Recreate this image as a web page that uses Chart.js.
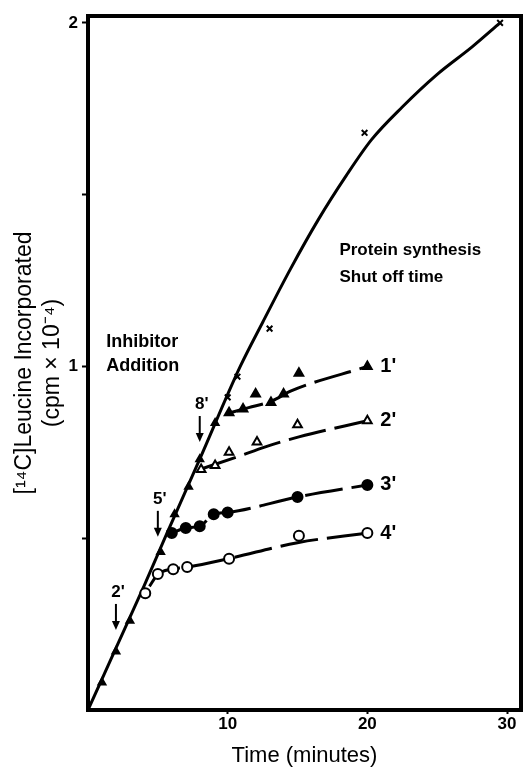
<!DOCTYPE html>
<html>
<head>
<meta charset="utf-8">
<script src="https://cdn.jsdelivr.net/npm/chart.js@4.4.1/dist/chart.umd.min.js"></script>
<style>
  body { margin: 0; background: #fff; }
  canvas { display: block; }
</style>
</head>
<body>
<canvas id="myChart" width="528" height="767"></canvas>
<script>
// control curve (no inhibitor)
const controlLineT = [0, 2, 4, 5.5, 8, 10.9, 12.5, 14.5, 16.5, 18.5, 20.3, 22.5, 25, 27.5, 29.5];
const controlLineY = [0, 0.18, 0.36, 0.5, 0.73, 1.0, 1.128, 1.284, 1.428, 1.556, 1.66, 1.755, 1.85, 1.93, 2.0];
const controlMarkT = [10, 10.7, 13, 19.8, 29.5];
const controlMarkY = [0.91, 0.97, 1.11, 1.68, 2.0];
// points on the common part before inhibitor addition
const earlyMarkT = [1, 2, 3, 5.2, 6.2, 7.2, 8, 9.1];
const earlyMarkY = [0.08, 0.17, 0.26, 0.46, 0.57, 0.65, 0.73, 0.835];

// shut off 1'
const s1LineT = [9.9, 11.5, 13.2, 14.5, 20];
const s1LineY = [0.862, 0.88, 0.9, 0.928, 1.0];
const s1MarkT = [10.1, 11.1, 12, 13.1, 14, 15.1, 20];
const s1MarkY = [0.865, 0.876, 0.92, 0.895, 0.92, 0.98, 1.0];
// shut off 2'
const s2LineT = [8, 10.7, 12.7, 15.1, 20];
const s2LineY = [0.7, 0.737, 0.766, 0.795, 0.842];
const s2MarkT = [8.1, 9.1, 10.1, 12.1, 15, 20];
const s2MarkY = [0.7, 0.712, 0.75, 0.78, 0.83, 0.842];
// shut off 3'
const s3T = [6, 7, 8, 9, 10, 15, 20];
const s3Y = [0.515, 0.53, 0.535, 0.57, 0.575, 0.62, 0.655];
// shut off 4'
const s4LineT = [4.4, 5, 6, 7, 10, 15, 20];
const s4LineY = [0.36, 0.395, 0.41, 0.415, 0.44, 0.487, 0.515];
const s4MarkT = [4.1, 5, 6.1, 7.1, 10.1, 15.1, 20];
const s4MarkY = [0.34, 0.396, 0.41, 0.416, 0.44, 0.507, 0.515];

const xTickValues = [10, 20, 30];
const yTickValues = [0.5, 1, 1.5, 2];
const yTickLabels = ['', '1', '', '2'];

const inhibitorTimes = [2, 5, 8];
const inhibitorTips = [0.233, 0.504, 0.78];
const inhibitorLabels = ["2'", "5'", "8'"];
const shutoffLabels = ["1'", "2'", "3'", "4'"];
const shutoffEnds = [s1MarkY[s1MarkY.length - 1], s2MarkY[s2MarkY.length - 1], s3Y[s3Y.length - 1], s4MarkY[s4MarkY.length - 1]];

const inhibitorNote = ['Inhibitor', 'Addition'];
const shutoffNote = ['Protein synthesis', 'Shut off time'];

const pts = (t, v) => t.map((x, i) => ({ x: x, y: v[i] }));

Chart.defaults.font.family = "'Liberation Sans', Arial, sans-serif";
Chart.defaults.color = '#000';

const markers = (label, t, v, style, fill, r) => ({
    label: label,
    data: pts(t, v),
    showLine: false,
    pointStyle: style,
    pointRadius: r,
    pointBackgroundColor: fill,
    pointBorderColor: '#000',
    pointBorderWidth: 2
});

const dashed = (label, t, v) => ({
    label: label,
    data: pts(t, v),
    borderColor: '#000',
    borderWidth: 3,
    borderDash: [38, 9],
    pointRadius: 0,
    cubicInterpolationMode: 'monotone'
});

const data = {
    datasets: [
        markers('control', controlMarkT, controlMarkY, 'crossRot', '#000', 4),
        markers('early', earlyMarkT, earlyMarkY, 'triangle', '#000', 4),
        markers("1'", s1MarkT, s1MarkY, 'triangle', '#000', 5),
        markers("2'", s2MarkT, s2MarkY, 'triangle', '#fff', 5),
        markers("3'", s3T, s3Y, 'circle', '#000', 5),
        markers("4'", s4MarkT, s4MarkY, 'circle', '#fff', 5),
        {
            label: 'control line',
            data: pts(controlLineT, controlLineY),
            borderColor: '#000',
            borderWidth: 3,
            pointRadius: 0,
            cubicInterpolationMode: 'monotone'
        },
        dashed("1' line", s1LineT, s1LineY),
        dashed("2' line", s2LineT, s2LineY),
        dashed("3' line", s3T, s3Y),
        dashed("4' line", s4LineT, s4LineY)
    ]
};

const annotations = {
    id: 'annotations',
    afterDatasetsDraw(chart) {
        const { ctx, chartArea: a, scales: { x, y } } = chart;
        ctx.save();
        ctx.strokeStyle = '#000';
        ctx.fillStyle = '#000';
        ctx.lineWidth = 4;
        ctx.strokeRect(a.left, a.top, a.right - a.left, a.bottom - a.top);

        // inhibitor addition arrows
        ctx.font = "bold 17px 'Liberation Sans', Arial, sans-serif";
        ctx.textAlign = 'center';
        ctx.textBaseline = 'middle';
        ctx.lineWidth = 2;
        inhibitorTimes.forEach((t, i) => {
            const px = x.getPixelForValue(t);
            const tip = y.getPixelForValue(inhibitorTips[i]);
            ctx.beginPath();
            ctx.moveTo(px, tip - 26);
            ctx.lineTo(px, tip - 6);
            ctx.stroke();
            ctx.beginPath();
            ctx.moveTo(px - 4, tip - 9);
            ctx.lineTo(px + 4, tip - 9);
            ctx.lineTo(px, tip);
            ctx.closePath();
            ctx.fill();
            ctx.fillText(inhibitorLabels[i], px + 2, tip - 38);
        });

        // shut off labels
        ctx.font = "bold 20px 'Liberation Sans', Arial, sans-serif";
        ctx.textAlign = 'left';
        shutoffLabels.forEach((lab, i) => {
            ctx.fillText(lab, x.getPixelForValue(20) + 13, y.getPixelForValue(shutoffEnds[i]));
        });

        // notes
        ctx.textBaseline = 'alphabetic';
        ctx.font = "bold 18px 'Liberation Sans', Arial, sans-serif";
        inhibitorNote.forEach((s, i) => {
            ctx.fillText(s, x.getPixelForValue(1.3), y.getPixelForValue(1.057) + i * 24);
        });
        ctx.font = "bold 17px 'Liberation Sans', Arial, sans-serif";
        shutoffNote.forEach((s, i) => {
            ctx.fillText(s, x.getPixelForValue(18.0), y.getPixelForValue(1.325) + i * 27);
        });
        ctx.restore();
    }
};

const config = {
    type: 'line',
    data: data,
    plugins: [annotations],
    options: {
        responsive: false,
        animation: false,
        devicePixelRatio: 1,
        layout: { padding: { top: 16, right: 7, left: 0, bottom: 0 } },
        plugins: { legend: { display: false }, tooltip: { enabled: false } },
        scales: {
            x: {
                type: 'linear',
                min: 0,
                max: 31,
                afterBuildTicks: s => { s.ticks = xTickValues.map(v => ({ value: v })); },
                afterFit: s => { s.height = 57; },
                grid: { drawOnChartArea: false, tickLength: 4, tickWidth: 2, color: '#000' },
                border: { color: '#000', width: 4 },
                ticks: { color: '#000', font: { size: 17, weight: 'bold' }, padding: 0, maxRotation: 0 },
                title: {
                    display: true,
                    text: 'Time (minutes)',
                    color: '#000',
                    font: { size: 22, lineHeight: 1 },
                    padding: 0
                }
            },
            y: {
                type: 'linear',
                min: 0,
                max: 2.02,
                afterBuildTicks: s => { s.ticks = yTickValues.map(v => ({ value: v })); },
                afterFit: s => { s.width = 88; },
                grid: { drawOnChartArea: false, tickLength: 6, tickWidth: 2, color: '#000' },
                border: { color: '#000', width: 4 },
                ticks: {
                    color: '#000',
                    font: { size: 17, weight: 'bold' },
                    padding: 4,
                    callback: v => yTickLabels[yTickValues.indexOf(v)]
                },
                title: {
                    display: true,
                    text: ['[\u00B9\u2074C]Leucine Incorporated', '(cpm \u00D7 10\u207B\u2074)'],
                    color: '#000',
                    font: { size: 23, lineHeight: 1.2 },
                    padding: { top: 11, bottom: 0 }
                }
            }
        }
    }
};

const myChart = new Chart(document.getElementById('myChart'), config);
</script>
</body>
</html>
